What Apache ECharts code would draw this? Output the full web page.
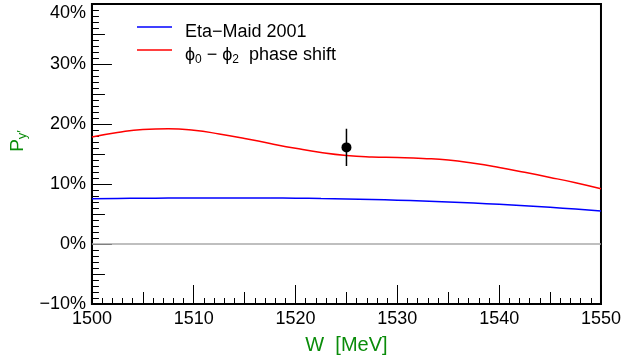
<!DOCTYPE html>
<html>
<head>
<meta charset="utf-8">
<script src="https://cdn.jsdelivr.net/npm/echarts@6/dist/echarts.min.js"></script>
<style>
html,body{margin:0;padding:0;background:#fff;}
#c{width:624px;height:360px;}
</style>
</head>
<body>
<div id="c"></div>
<script>
// ---- data ----
const energies = [1500, 1502.5, 1505, 1507.5, 1510, 1512.5, 1515, 1517.5, 1520, 1522.5, 1525,
                  1527.5, 1530, 1532.5, 1535, 1537.5, 1540, 1542.5, 1545, 1547.5, 1550];
const etaMaid = [7.55, 7.59, 7.62, 7.65, 7.67, 7.68, 7.68, 7.66, 7.63, 7.58, 7.52,
                 7.42, 7.30, 7.16, 7.00, 6.82, 6.62, 6.38, 6.12, 5.82, 5.50];
const phaseShift = [17.85, 18.6, 19.1, 19.2, 18.95, 18.35, 17.6, 16.75, 15.95, 15.25, 14.75,
                    14.5, 14.4, 14.25, 14.0, 13.45, 12.75, 11.95, 11.1, 10.2, 9.2];
const measW = [1525];
const measVal = [16.1];
const measErr = [3.1];
const seriesNames = ['Eta\u2212Maid 2001', 'phase'];
const xTicks = [1500, 1510, 1520, 1530, 1540, 1550];
const yTicks = [-10, 0, 10, 20, 30, 40];

const FONT = 'Liberation Sans, Arial, Helvetica, sans-serif';
const GREEN = '#0a8c0a';

const pairs = (xs, ys) => xs.map((x, i) => [x, ys[i]]);
const errData = [];
measW.forEach((w, i) => { errData.push([w, measVal[i] - measErr[i]]); errData.push([w, measVal[i] + measErr[i]]); });

const chart = echarts.init(document.getElementById('c'), null, {renderer: 'canvas'});
const xMin = xTicks[0], xMax = xTicks[xTicks.length - 1];
const yMin = yTicks[0], yMax = yTicks[yTicks.length - 1];

function tickAxisX(interval, len) {
  return {
    type: 'value', min: xMin, max: xMax, interval: interval, position: 'bottom',
    axisLine: {show: false, onZero: false}, axisLabel: {show: false}, splitLine: {show: false},
    axisTick: {show: true, inside: true, length: len, lineStyle: {color: '#000', width: 1}}
  };
}
function tickAxisY(interval, len) {
  return {
    type: 'value', min: yMin, max: yMax, interval: interval, position: 'left',
    axisLine: {show: false, onZero: false}, axisLabel: {show: false}, splitLine: {show: false},
    axisTick: {show: true, inside: true, length: len, lineStyle: {color: '#000', width: 1}}
  };
}

chart.setOption({
  animation: false,
  backgroundColor: '#fff',
  textStyle: {fontFamily: FONT},
  grid: {left: 88, right: 23, top: 4, bottom: 55, show: true, borderColor: '#000', borderWidth: 2, backgroundColor: 'transparent'},
  legend: {
    orient: 'vertical', left: 137, top: 11, padding: 0, itemGap: -9,
    itemWidth: 35, itemHeight: 1.5, icon: 'rect',
    data: seriesNames,
    formatter: function (n) {
      if (n === 'phase') return '{n|\u03d5}{s|0}{n| \u2212 \u03d5}{s|2}{n|  phase shift}';
      return '{n|' + n + '}';
    },
    textStyle: {
      fontSize: 18, color: '#000', fontFamily: FONT, padding: [10, 0, 0, 8], lineHeight: 22,
      rich: {
        n: {fontSize: 18, lineHeight: 22, color: '#000', fontFamily: FONT},
        s: {fontSize: 12, lineHeight: 12, verticalAlign: 'bottom', color: '#000', fontFamily: FONT}
      }
    }
  },
  xAxis: [{
    type: 'value', min: xMin, max: xMax, interval: 10,
    name: 'W  [MeV]', nameLocation: 'middle', nameGap: 31,
    nameTextStyle: {color: GREEN, fontSize: 20, fontFamily: FONT},
    axisLine: {show: true, onZero: false, lineStyle: {color: '#000', width: 2}},
    axisTick: {show: true, inside: true, length: 19, lineStyle: {color: '#000', width: 1}},
    axisLabel: {show: true, color: '#000', fontSize: 18, margin: 6, fontFamily: FONT,
      formatter: v => String(v)},
    splitLine: {show: false}
  }, tickAxisX(5, 12), tickAxisX(1, 6)],
  yAxis: [{
    type: 'value', min: yMin, max: yMax, interval: 10,
    name: '{p|P}{s|y\u2032}', nameLocation: 'middle', nameRotate: 90, nameGap: 62,
    nameTextStyle: {
      color: GREEN, padding: [0, 0, 0, 26],
      rich: {
        p: {fontSize: 19, lineHeight: 22, color: GREEN, fontFamily: FONT},
        s: {fontSize: 13, lineHeight: 13, verticalAlign: 'bottom', color: GREEN, fontFamily: FONT}
      }
    },
    axisLine: {show: true, onZero: false, lineStyle: {color: '#000', width: 2}},
    axisTick: {show: true, inside: true, length: 20, lineStyle: {color: '#000', width: 1}},
    axisLabel: {show: true, color: '#000', fontSize: 18, margin: 6, fontFamily: FONT,
      formatter: v => String(v).replace('-', '\u2212') + '%', verticalAlignMaxLabel: 'top'},
    splitLine: {show: false}
  }, tickAxisY(5, 13), tickAxisY(1, 7)],
  series: [
    {
      name: seriesNames[0], type: 'line', data: pairs(energies, etaMaid), smooth: true,
      symbol: 'none', lineStyle: {color: '#0000ff', width: 1.5}, itemStyle: {color: '#0000ff'},
      markLine: {silent: true, symbol: 'none', label: {show: false},
        lineStyle: {color: '#aaaaaa', width: 1.6, type: 'solid'}, data: [{yAxis: 0}]}
    },
    {
      name: seriesNames[1], type: 'line', data: pairs(energies, phaseShift), smooth: true,
      symbol: 'none', lineStyle: {color: '#ff0000', width: 1.5}, itemStyle: {color: '#ff0000'}
    },
    {
      name: 'errbar', type: 'line', data: errData, symbol: 'none',
      lineStyle: {color: '#000', width: 1.5}
    },
    {
      name: 'data', type: 'scatter', data: pairs(measW, measVal), symbolSize: 10,
      itemStyle: {color: '#000', opacity: 1}
    }
  ]
});
</script>
</body>
</html>
